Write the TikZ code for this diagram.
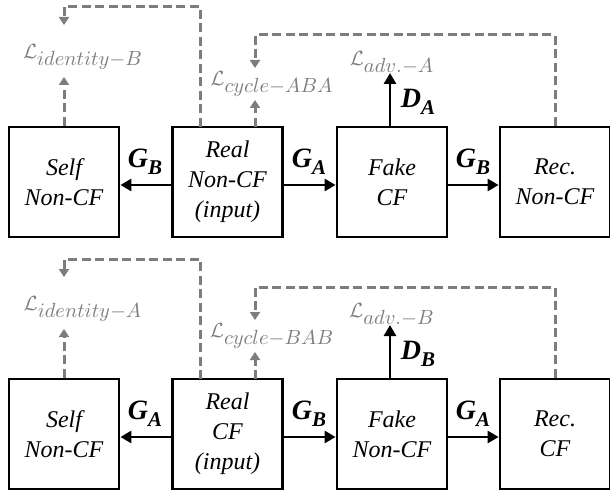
\documentclass[tikz,border=0pt]{standalone}
\usepackage{fontspec}
\setmainfont{Liberation Serif}
\usetikzlibrary{arrows.meta}
\definecolor{lossgray}{RGB}{125,125,125}
\newcommand{\gsym}[2]{{\bfseries\itshape #1\raisebox{-0.24em}{\fontsize{21}{21}\selectfont #2}}}
\newcommand{\lossL}[1]{$\mathcal{L}_{\textstyle #1}$}
\begin{document}
\begin{tikzpicture}[x=1pt,y=-1pt,
  box/.style={draw, line width=2.8pt, minimum width=110pt, minimum height=110pt, inner sep=0pt, align=center, font=\fontsize{24}{30}\selectfont\itshape, execute at begin node={\rule{0pt}{29pt}}},
  flow/.style={-{Triangle[length=11pt,width=12pt]}, line width=2.8pt},
  loss/.style={draw=lossgray, line width=3pt, dash pattern=on 9pt off 4.5pt, -{Triangle[length=8pt,width=10pt]}},
  losslabel/.style={text=lossgray, font=\fontsize{10}{12}\selectfont, scale=2.05, inner sep=0pt},
  glabel/.style={font=\fontsize{28}{30}\selectfont, inner sep=0pt}]
\useasboundingbox (0,0) rectangle (610,497);
% ---------- top row ----------
\node[box] (selfA) at (64,182) {Self\\Non-CF};
\node[box] (realA) at (227.5,182) {Real\\Non-CF\\(input)};
\node[box] (fakeA) at (392,182) {Fake\\CF};
\node[box] (recA) at (555,182) {Rec.\\Non-CF};
\draw[flow] ([yshift=-3pt]realA.west) -- ([yshift=-3pt]selfA.east);
\draw[flow] ([yshift=-3pt]realA.east) -- ([yshift=-3pt]fakeA.west);
\draw[flow] ([yshift=-3pt]fakeA.east) -- ([yshift=-3pt]recA.west);
\node[glabel] (gaA) at (145,162) {\gsym{G}{B}};
\node[glabel] (gbA) at (309,162) {\gsym{G}{A}};
\node[glabel] (gcA) at (473,162) {\gsym{G}{B}};
\node[losslabel] (lidA) at (83,57) {\lossL{identity{-}B}};
\node[losslabel] (lcyA) at (272,84) {\lossL{cycle{-}ABA}};
\node[losslabel] (ladA) at (392,63) {\lossL{adv.{-}A}};
\node[glabel] (dA) at (418,102) {\gsym{D}{A}};
\coordinate (tidA) at (64,7);
\coordinate (tcyA) at (255,35);
\coordinate (raA) at (200,127);
\coordinate (rbA) at (255,127);
\coordinate (faA) at (390,127);
\coordinate (idupA) at (64,77);
\coordinate (iddnA) at (64,25);
\coordinate (cyupA) at (255,100);
\coordinate (cydnA) at (255,68);
\coordinate (adA) at (390,73);
\draw[flow] (faA) -- (adA);
\draw[loss] (selfA.north) -- (idupA);
\draw[loss] (rbA) -- (cyupA);
\draw[loss] (raA) |- (tidA) -- (iddnA);
\draw[loss] (recA.north) |- (tcyA) -- (cydnA);
% ---------- bottom row ----------
\node[box] (selfB) at (64,434) {Self\\Non-CF};
\node[box] (realB) at (227.5,434) {Real\\CF\\(input)};
\node[box] (fakeB) at (392,434) {Fake\\Non-CF};
\node[box] (recB) at (555,434) {Rec.\\CF};
\draw[flow] ([yshift=-3pt]realB.west) -- ([yshift=-3pt]selfB.east);
\draw[flow] ([yshift=-3pt]realB.east) -- ([yshift=-3pt]fakeB.west);
\draw[flow] ([yshift=-3pt]fakeB.east) -- ([yshift=-3pt]recB.west);
\node[glabel] (gaB) at (145,414) {\gsym{G}{A}};
\node[glabel] (gbB) at (309,414) {\gsym{G}{B}};
\node[glabel] (gcB) at (473,414) {\gsym{G}{A}};
\node[losslabel] (lidB) at (83,309) {\lossL{identity{-}A}};
\node[losslabel] (lcyB) at (272,336) {\lossL{cycle{-}BAB}};
\node[losslabel] (ladB) at (392,315) {\lossL{adv.{-}B}};
\node[glabel] (dB) at (418,354) {\gsym{D}{B}};
\coordinate (tidB) at (64,259);
\coordinate (tcyB) at (255,287);
\coordinate (raB) at (200,379);
\coordinate (rbB) at (255,379);
\coordinate (faB) at (390,379);
\coordinate (idupB) at (64,329);
\coordinate (iddnB) at (64,277);
\coordinate (cyupB) at (255,352);
\coordinate (cydnB) at (255,320);
\coordinate (adB) at (390,325);
\draw[flow] (faB) -- (adB);
\draw[loss] (selfB.north) -- (idupB);
\draw[loss] (rbB) -- (cyupB);
\draw[loss] (raB) |- (tidB) -- (iddnB);
\draw[loss] (recB.north) |- (tcyB) -- (cydnB);
\end{tikzpicture}
\end{document}
